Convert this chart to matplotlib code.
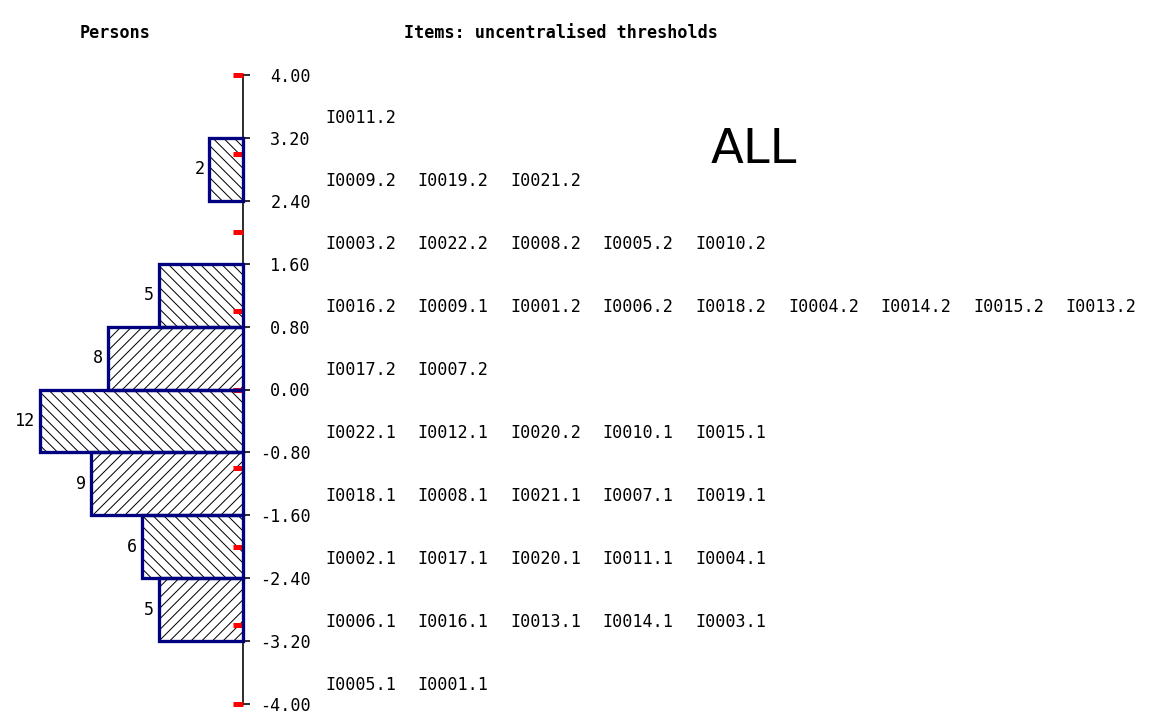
import matplotlib
matplotlib.use('Agg')
import matplotlib.pyplot as plt
import numpy as np

# data
bin_lower = [-3.2, -2.4, -1.6, -0.8, 0.0, 0.8, 1.6, 2.4]
person_counts = [5, 6, 9, 12, 8, 5, 0, 2]
bin_hatches = ['//', '\\\\', '//', '\\\\', '//', '\\\\', '//', '\\\\']
tick_values = np.linspace(-4, 4, 11)
red_marks = [-4, -3, -2, -1, 0, 1, 2, 3, 4]

item_rows = [3.6, 2.8, 2.0, 1.2, 0.4, -0.4, -1.2, -2.0, -2.8, -3.6]
item_labels = [
    ['I0011.2'],
    ['I0009.2', 'I0019.2', 'I0021.2'],
    ['I0003.2', 'I0022.2', 'I0008.2', 'I0005.2', 'I0010.2'],
    ['I0016.2', 'I0009.1', 'I0001.2', 'I0006.2', 'I0018.2', 'I0004.2', 'I0014.2', 'I0015.2', 'I0013.2'],
    ['I0017.2', 'I0007.2'],
    ['I0022.1', 'I0012.1', 'I0020.2', 'I0010.1', 'I0015.1'],
    ['I0018.1', 'I0008.1', 'I0021.1', 'I0007.1', 'I0019.1'],
    ['I0002.1', 'I0017.1', 'I0020.1', 'I0011.1', 'I0004.1'],
    ['I0006.1', 'I0016.1', 'I0013.1', 'I0014.1', 'I0003.1'],
    ['I0005.1', 'I0001.1'],
]

DPI = 64          # low dpi so the hatch spacing matches the original
W, H = 1153, 714
PT = 72.0 / DPI   # points per pixel

plt.rcParams['hatch.linewidth'] = 1.0 * PT
mono = 'DejaVu Sans Mono'
small = 16.8 * PT

fig = plt.figure(figsize=(W / DPI, H / DPI), dpi=DPI)
fig.patch.set_facecolor('white')
ax = fig.add_axes([0, 10 / H, 1, 629 / H])
ax.set_ylim(-4, 4)
ax.set_xlim(243.3 / 16.95, -(W - 243.3) / 16.95)

# histogram of persons (only non-empty bins are drawn)
bw = 0.8
for i, (lo, c) in enumerate(zip(bin_lower, person_counts)):
    if c == 0:
        continue
    mid = lo + bw / 2
    ax.barh(mid, c, height=bw, color='white', edgecolor='black',
            hatch=bin_hatches[i], linewidth=0, zorder=2)
    ax.barh(mid, c, height=bw, fill=False, edgecolor='#000080',
            linewidth=3.3 * PT, zorder=4)
    ax.annotate(str(c), xy=(c, mid), xytext=(-5 * PT, 0), textcoords='offset points',
                ha='right', va='center', fontsize=small, family=mono)

# red marks at integer logits
ax.hlines(red_marks, 0, 0.6, color='red', linewidth=5 * PT, zorder=3, clip_on=False)

# axis line with ticks to the right
for s in ['top', 'bottom', 'left']:
    ax.spines[s].set_visible(False)
ax.spines['right'].set_position(('data', 0))
ax.spines['right'].set_linewidth(1.6 * PT)
ax.spines['right'].set_zorder(1)
ax.xaxis.set_visible(False)
ax.yaxis.set_ticks_position('right')
ax.set_yticks(tick_values)
ax.set_yticklabels(['%.2f' % v for v in tick_values], family=mono, fontsize=small)
ax.tick_params(axis='y', direction='out', length=7 * PT, width=1.6 * PT, pad=60.5 * PT)
plt.setp(ax.get_yticklabels(), ha='right')

# item thresholds
col_x = [325 + 92.6 * k for k in range(9)]
for y, row in zip(item_rows, item_labels):
    for k, lab in enumerate(row):
        ax.annotate(lab, xy=(col_x[k] / W, y), xycoords=('figure fraction', 'data'),
                    xytext=(0, -12 * PT), textcoords='offset points',
                    ha='left', va='center', fontsize=small, family=mono)

# headers
fig.text(80 / W, 1 - 33 / H, 'Persons', ha='left', va='center',
         fontsize=small, family=mono, fontweight='bold')
fig.text(404 / W, 1 - 33 / H, 'Items: uncentralised thresholds', ha='left', va='center',
         fontsize=small, family=mono, fontweight='bold')
fig.text(711 / W, 1 - 163 / H, 'ALL', ha='left', va='baseline',
         fontsize=48 * PT, family='DejaVu Sans')

fig.savefig('out.png', dpi=DPI)
